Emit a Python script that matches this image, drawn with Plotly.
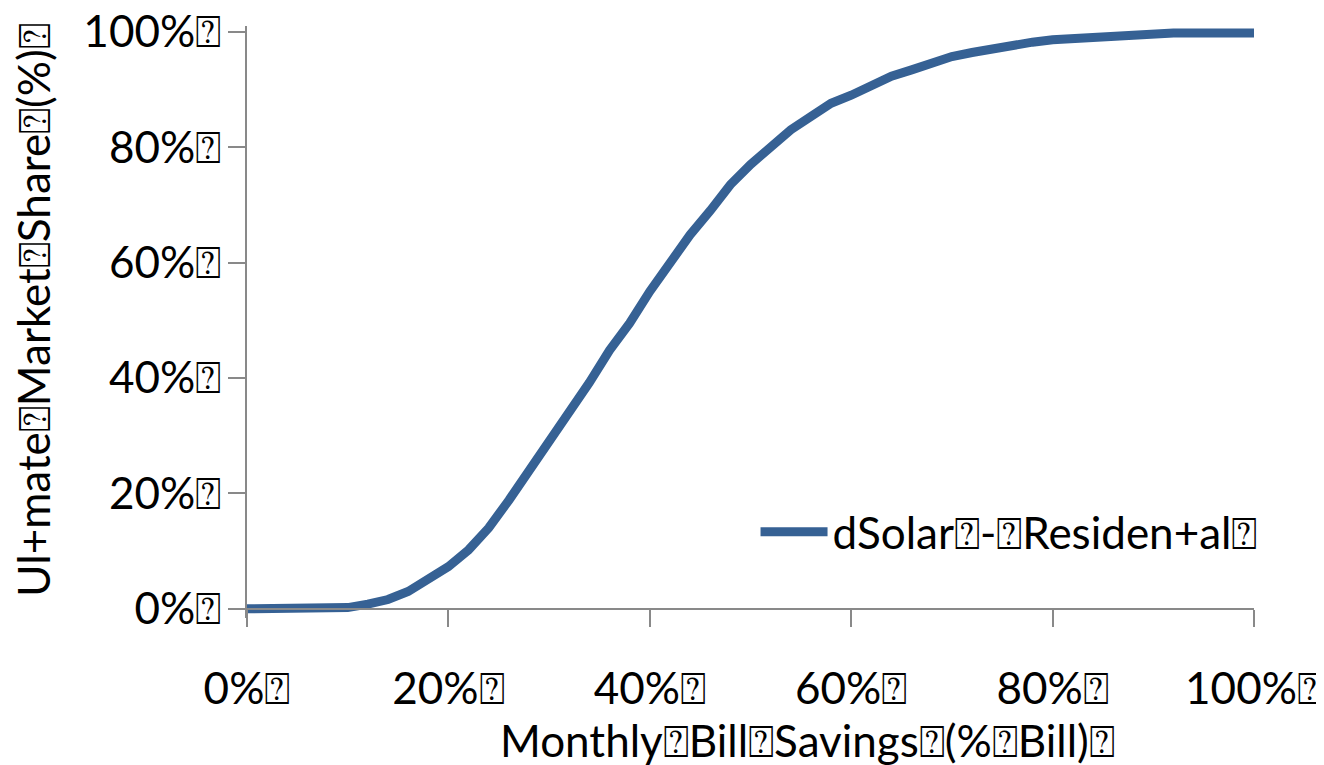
import plotly.graph_objects as go

BOX = "\u2370"

# Monthly bill savings (% of bill)
savings_pct = [0, 2, 4, 6, 8, 10, 12, 14, 16, 18, 20, 22, 24, 26, 28, 30, 32, 34, 36, 38,
               40, 42, 44, 46, 48, 50, 52, 54, 56, 58, 60, 62, 64, 66, 68, 70, 72, 74, 76, 78,
               80, 82, 84, 86, 88, 90, 92, 94, 96, 98, 100]
# Ultimate market share (%)
market_share = [0.0, 0.0, 0.0, 0.0, 0.0, 0.2, 0.8, 1.6, 3.0, 5.0, 7.3, 10.2, 14.0, 18.8, 23.8, 29.0,
                34.0, 39.2, 44.8, 49.5, 55.0, 60.0, 64.8, 69.0, 73.5, 77.0, 80.2, 83.0, 85.3, 87.6,
                89.0, 90.8, 92.3, 93.4, 94.6, 95.7, 96.4, 97.1, 97.7, 98.2, 98.6, 98.8, 99.1, 99.5,
                99.5, 99.6, 99.8, 99.8, 99.8, 99.8, 99.8]

tick_vals = [0, 20, 40, 60, 80, 100]
tick_text = [f"{v}%{BOX}" for v in tick_vals]

series_name = f"dSolar{BOX}-{BOX}Residen+al{BOX}"
x_title = f"Monthly{BOX}Bill{BOX}Savings{BOX}(%{BOX}Bill){BOX}"
y_title = f"Ul+mate{BOX}Market{BOX}Share{BOX}(%){BOX}"

FONT = "Lato, Carlito, Calibri, 'Noto Sans', sans-serif"
AXIS_COLOR = "#898989"

fig = go.Figure()
fig.add_trace(go.Scatter(
    x=savings_pct, y=market_share, mode="lines", name=series_name,
    line=dict(color="rgb(54,97,148)", width=9), showlegend=True,
))

y_lo, y_hi = -1.6, 101
fig.update_layout(
    width=1324, height=765,
    margin=dict(l=239, r=78, t=18, b=155, autoexpand=False),
    paper_bgcolor="white", plot_bgcolor="white",
    font=dict(family=FONT, size=44, color="black"),
    showlegend=True,
    legend=dict(x=0.505, y=0.145, xanchor="left", yanchor="middle",
                bgcolor="rgba(0,0,0,0)", font=dict(size=44, family=FONT),
                itemwidth=67),
    xaxis=dict(range=[0, 100], tickvals=tick_vals, ticktext=tick_text,
               showgrid=False, zeroline=False, showline=True, linecolor=AXIS_COLOR,
               linewidth=2, ticks="outside", ticklen=17, tickwidth=2, tickcolor=AXIS_COLOR,
               anchor="free", position=(0 - y_lo) / (y_hi - y_lo), automargin=False,
               ticklabeloverflow="allow",
               ticklabelstandoff=24, tickfont=dict(size=44, family=FONT)),
    yaxis=dict(range=[y_lo, y_hi], tickvals=tick_vals, ticktext=tick_text,
               showgrid=False, zeroline=False, showline=True, linecolor=AXIS_COLOR,
               linewidth=2, ticks="outside", ticklen=17, tickwidth=2, tickcolor=AXIS_COLOR,
               automargin=False, ticklabeloverflow="allow",
               ticklabelstandoff=-2, tickfont=dict(size=44, family=FONT)),
    annotations=[
        dict(text=x_title, xref="paper", yref="paper", x=0.557, y=-0.206,
             xanchor="center", yanchor="middle", showarrow=False,
             font=dict(size=44, family=FONT)),
        dict(text=y_title, xref="paper", yref="paper", x=-0.212, y=0.52,
             xanchor="center", yanchor="middle", showarrow=False, textangle=-90,
             font=dict(size=44, family=FONT)),
    ],
)

fig.write_html("out.html")
